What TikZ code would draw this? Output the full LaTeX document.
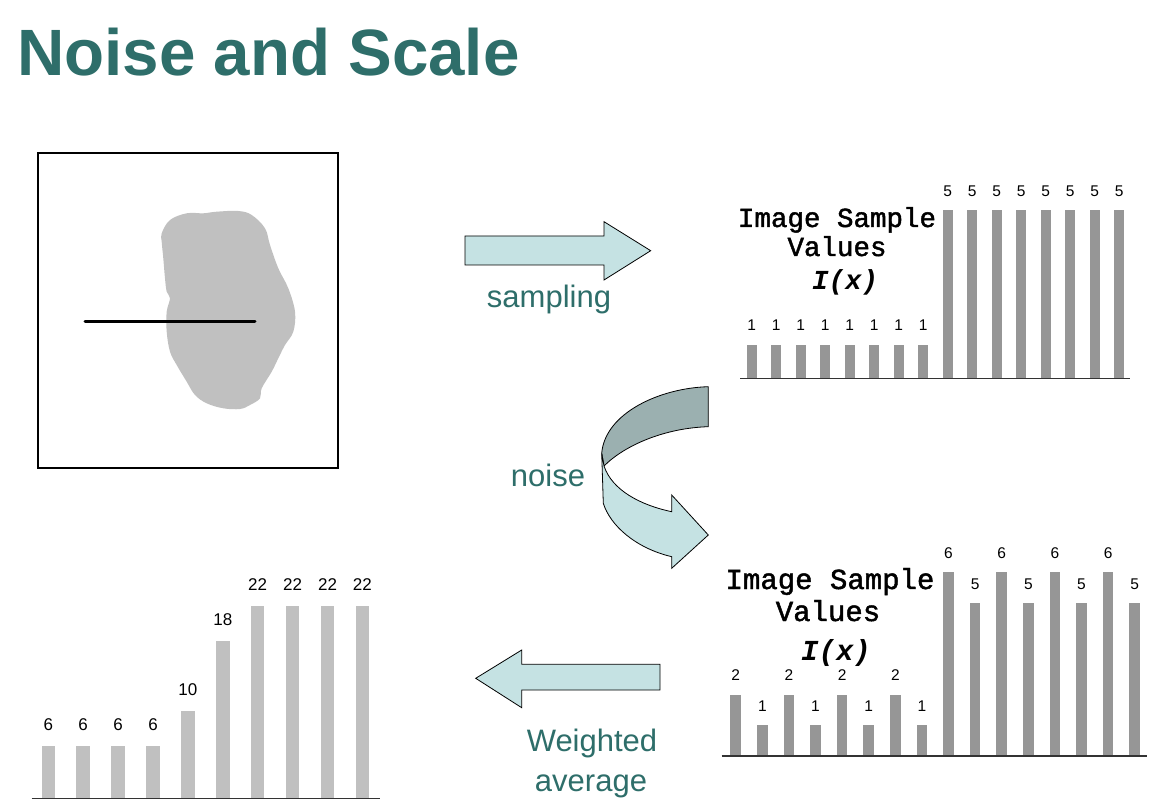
\documentclass[tikz,border=0pt]{standalone}
\usepackage{fontspec}
\setmainfont{Liberation Sans}
\newfontfamily\monofont{Liberation Mono}[FakeBold=1.6]
\newfontfamily\monofontbi{Liberation Mono Bold Italic}
\definecolor{titleteal}{RGB}{46,110,106}
\definecolor{arrowfill}{RGB}{197,226,227}
\definecolor{darkrib}{RGB}{155,176,176}
\definecolor{barA}{RGB}{150,150,150}
\definecolor{barB}{RGB}{192,192,192}
\definecolor{blobgray}{RGB}{192,192,192}
\tikzset{
  axisline/.style={draw=black!80,line width=1.4pt},
  blockarrow/.style={fill=arrowfill,draw=black,line width=0.8pt,line join=miter},
  lblR/.style={font=\fontsize{15.5}{17}\selectfont,anchor=base,inner sep=0pt},
  lblL/.style={font=\fontsize{17}{19}\selectfont,anchor=base,inner sep=0pt},
  tealtext/.style={text=titleteal,font=\fontsize{31}{35}\selectfont,anchor=base,inner sep=0pt},
  monotext/.style={anchor=base,inner sep=0pt}
}
\begin{document}
\begin{tikzpicture}[x=1pt,y=-1pt]
\useasboundingbox (0,0) rectangle (1172,810);
\fill[white] (0,0) rectangle (1172,810);

% title
\node[anchor=base west,inner sep=0pt,text=titleteal,font=\fontsize{65.5}{70}\selectfont\bfseries] (title) at (17,76) {Noise and Scale};

% image box
\draw[line width=1.2pt] (38,153) rectangle (338,468);
\fill[blobgray] plot[smooth cycle,tension=0.6] coordinates {
(161.7,233.3) (170,220) (186.7,213.3) (203.3,213.3) (216.7,211.7) (238.3,211)
(251.7,215) (265,228.3) (270,245) (278.3,268.3) (288.3,288.3) (295,311.7)
(293.3,331.7) (285,345) (278.3,358.3) (271.7,371.7) (261.7,388.3) (260,398.3)
(250,405) (240,409) (223.3,408.3) (206.7,403.3) (195,395) (186.7,381.7)
(176.7,365) (170,351.7) (166.7,331.7) (166.7,311.7) (170,298.3) (166.7,291.7)
(165,278.3) (163.3,258.3) (161.7,241.7)};
\coordinate (scanA) at (85,321);
\coordinate (scanB) at (255,321);
\draw[line width=3pt,line cap=round] (scanA) -- (scanB);

% sampling arrow
\draw[blockarrow] (465,236) -- (604,236) -- (604,221.7) -- (650.7,250.7) -- (604,280) -- (604,265) -- (465,265) -- cycle;
\node[tealtext] (sampling) at (549,307) {sampling};

% noise curved arrow
\draw[fill=darkrib,draw=black,line width=0.8pt] (708.3,386.7) .. controls (660,388) and (605,413) .. (601.7,453.3)
  -- (604,466) .. controls (625,445) and (665,428) .. (708.3,426.7) -- cycle;
\draw[fill=arrowfill,draw=black,line width=0.8pt,line join=miter] (601.7,453.3) -- (603.3,503.3)
  .. controls (610,525) and (635,548) .. (671.7,556.7) -- (671.7,568.3) -- (708.3,535) -- (671.7,495) -- (671.7,511.7)
  .. controls (640,505) and (612,490) .. (604,466) -- cycle;
\node[tealtext] (noise) at (548,486) {noise};

% weighted average arrow
\draw[blockarrow] (660,664.3) -- (521.7,664.3) -- (521.7,650) -- (475.7,678.3) -- (521.7,707.7) -- (521.7,690) -- (660,690) -- cycle;
\node[tealtext] (weighted) at (592,751) {Weighted};
\node[tealtext] (average) at (591,791) {average};

% top-right chart
\foreach \i/\v in {0/1,1/1,2/1,3/1,4/1,5/1,6/1,7/1,8/5,9/5,10/5,11/5,12/5,13/5,14/5,15/5}{
  \fill[barA] ({751.7+24.5*\i-5},378.3) rectangle ++(10,{-33.6*\v});
  \node[lblR] (tr\i) at ({751.7+24.5*\i},{378.3-33.6*\v-14}) {\v};
}
\coordinate (trA) at (740,378.3);
\coordinate (trB) at (1130,378.3);
\draw[axisline] (trA) -- (trB);
\node[monotext,font=\monofont\fontsize{27.5}{30}\selectfont] (trT1) at (837,227) {Image Sample};
\node[monotext,font=\monofont\fontsize{27.5}{30}\selectfont] (trT2) at (837,256) {Values};
\node[monotext,font=\monofontbi\fontsize{27.5}{30}\selectfont] (trT3) at (845,290) {I(x)};

% bottom-right chart
\foreach \i/\v in {0/2,1/1,2/2,3/1,4/2,5/1,6/2,7/1,8/6,9/5,10/6,11/5,12/6,13/5,14/6,15/5}{
  \fill[barA] ({735.7+26.6*\i-5.25},756) rectangle ++(10.5,{-30.6*\v});
  \node[lblR] (br\i) at ({735.7+26.6*\i},{756-30.6*\v-14}) {\v};
}
\coordinate (brA) at (721.7,756);
\coordinate (brB) at (1146.7,756);
\draw[axisline] (brA) -- (brB);
\node[monotext,font=\monofont\fontsize{29}{32}\selectfont] (brT1) at (830,589) {Image Sample};
\node[monotext,font=\monofont\fontsize{29}{32}\selectfont] (brT2) at (828,621) {Values};
\node[monotext,font=\monofontbi\fontsize{29}{32}\selectfont] (brT3) at (836,660) {I(x)};

% bottom-left chart
\foreach \i/\v in {0/6,1/6,2/6,3/6,4/10,5/18,6/22,7/22,8/22,9/22}{
  \fill[barB] ({48.3+34.9*\i-6.75},798.3) rectangle ++(13.5,{-8.75*\v});
  \node[lblL] (bl\i) at ({48.3+34.9*\i},{798.3-8.75*\v-15}) {\v};
}
\coordinate (blA) at (31.7,798.3);
\coordinate (blB) at (380,798.3);
\draw[axisline] (blA) -- (blB);
\end{tikzpicture}
\end{document}
